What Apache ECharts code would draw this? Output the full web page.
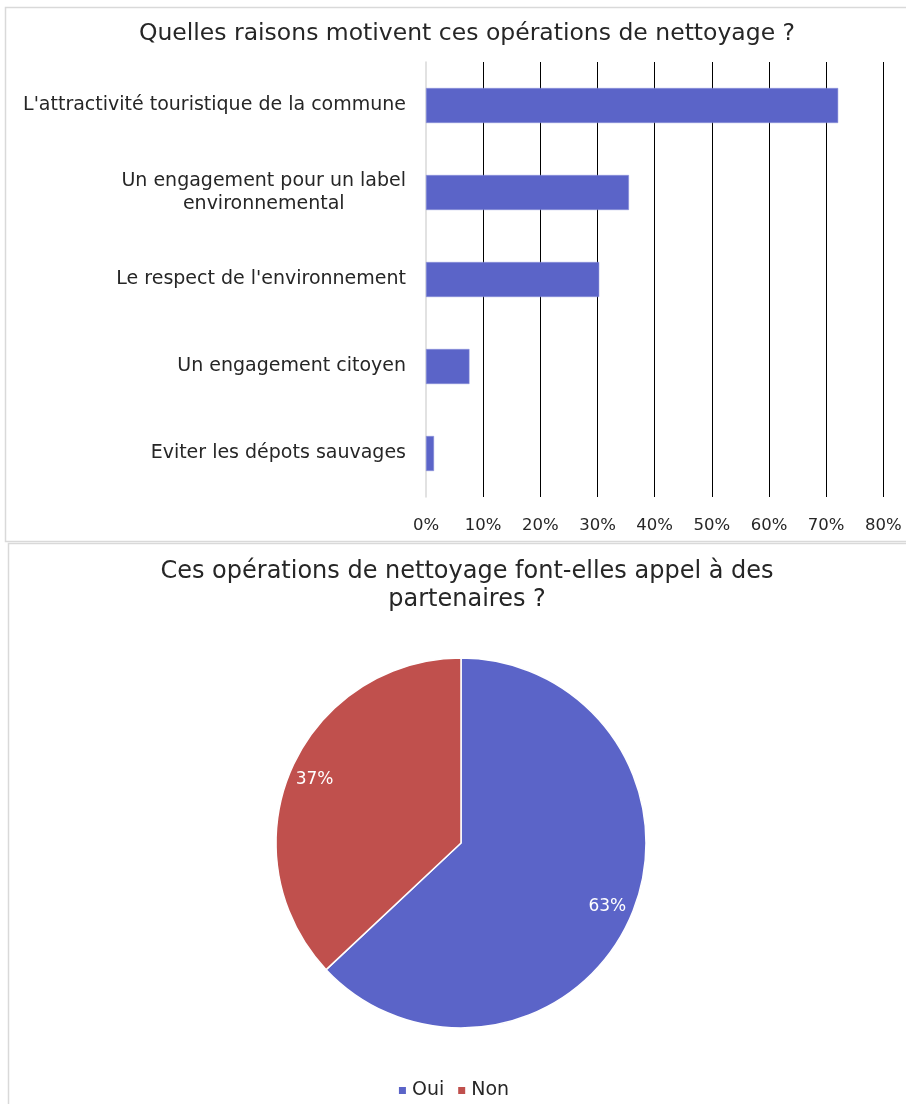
<!DOCTYPE html>
<html>
<head>
<meta charset="utf-8">
<script src="https://cdn.jsdelivr.net/npm/echarts@6/dist/echarts.min.js"></script>
<style>
html,body{margin:0;padding:0;background:#fff;}
#c{width:906px;height:1104px;}
</style>
</head>
<body>
<div id="c"></div>
<script>
const barTitle = "Quelles raisons motivent ces opérations de nettoyage ?";
const categories = [
  "L'attractivité touristique de la commune",
  "Un engagement pour un label\nenvironnemental",
  "Le respect de l'environnement",
  "Un engagement citoyen",
  "Eviter les dépots sauvages"
];
const barValues = [0.721, 0.355, 0.303, 0.076, 0.014];
const pieTitle = "Ces opérations de nettoyage font-elles appel à des\npartenaires ?";
const pieNames = ["Oui", "Non"];
const pieValues = [63, 37];
const pieColors = ["#5B64C8", "#C0504D"];

const FONT = "DejaVu Sans";
const TXT = "#262626";

const chart = echarts.init(document.getElementById('c'), null, {renderer: 'canvas'});
const pieData = pieNames.map((n, i) => ({name: n, value: pieValues[i], itemStyle: {color: pieColors[i]}}));

chart.setOption({
  backgroundColor: '#fff',
  animation: false,
  textStyle: {fontFamily: FONT, color: TXT},
  graphic: [
    {type: 'rect', shape: {x: 5.5, y: 7.5, width: 920, height: 534}, style: {fill: 'none', stroke: '#d9d9d9', lineWidth: 1.5}, silent: true, z: -1},
    {type: 'rect', shape: {x: 8.5, y: 543.5, width: 920, height: 600}, style: {fill: 'none', stroke: '#d9d9d9', lineWidth: 1.5}, silent: true, z: -1}
  ],
  title: [
    {text: barTitle, left: 462, top: 17, textAlign: 'center',
     textStyle: {fontFamily: FONT, fontSize: 23.5, fontWeight: 'normal', color: TXT}},
    {text: pieTitle, left: 462, top: 553, textAlign: 'center',
     textStyle: {fontFamily: FONT, fontSize: 24, fontWeight: 'normal', color: TXT, lineHeight: 28}}
  ],
  legend: {
    data: pieNames,
    left: 'center', top: 1076,
    icon: 'rect', itemWidth: 9, itemHeight: 9, itemGap: 12,
    textStyle: {fontFamily: FONT, fontSize: 19, color: TXT}
  },
  grid: {left: 426, right: 22.7, top: 62, bottom: 607, containLabel: false},
  xAxis: {
    type: 'value', min: 0, max: 0.8, interval: 0.1,
    axisLine: {show: false}, axisTick: {show: false},
    splitLine: {show: true, showMinLine: false, lineStyle: {color: '#000', width: 1}},
    axisLabel: {fontFamily: FONT, fontSize: 16.5, color: TXT, margin: 20,
      formatter: v => Math.round(v * 100) + '%'}
  },
  yAxis: {
    type: 'category', data: categories, inverse: true,
    axisLine: {show: true, lineStyle: {color: '#d9d9d9', width: 1.5}},
    axisTick: {show: false},
    axisLabel: {margin: 20, fontFamily: FONT, fontSize: 19, color: TXT, lineHeight: 23,
      formatter: v => v.split('\n').map(s => '{c|' + s + '}').join('\n'),
      rich: {c: {align: 'center', fontFamily: FONT, fontSize: 19, color: TXT, lineHeight: 23}}}
  },
  series: [
    {type: 'bar', data: barValues, barWidth: 35,
     itemStyle: {color: '#5B64C8', borderColor: '#8A90DA', borderWidth: 0.5}, z: 3},
    {type: 'pie', center: [461, 843], radius: [0, 185], startAngle: 90, clockwise: true,
     data: pieData, label: {show: false}, labelLine: {show: false},
     itemStyle: {borderColor: '#fff', borderWidth: 1.5}},
    {type: 'pie', center: [461, 843], radius: [128, 185], startAngle: 90, clockwise: true,
     silent: true, data: pieNames.map((n, i) => ({name: n, value: pieValues[i]})),
     itemStyle: {color: 'rgba(0,0,0,0)'},
     label: {show: true, position: 'inside', formatter: p => p.value + '%',
       fontFamily: FONT, fontSize: 17, color: '#fff'},
     labelLine: {show: false}, legendHoverLink: false}
  ]
});
</script>
</body>
</html>
